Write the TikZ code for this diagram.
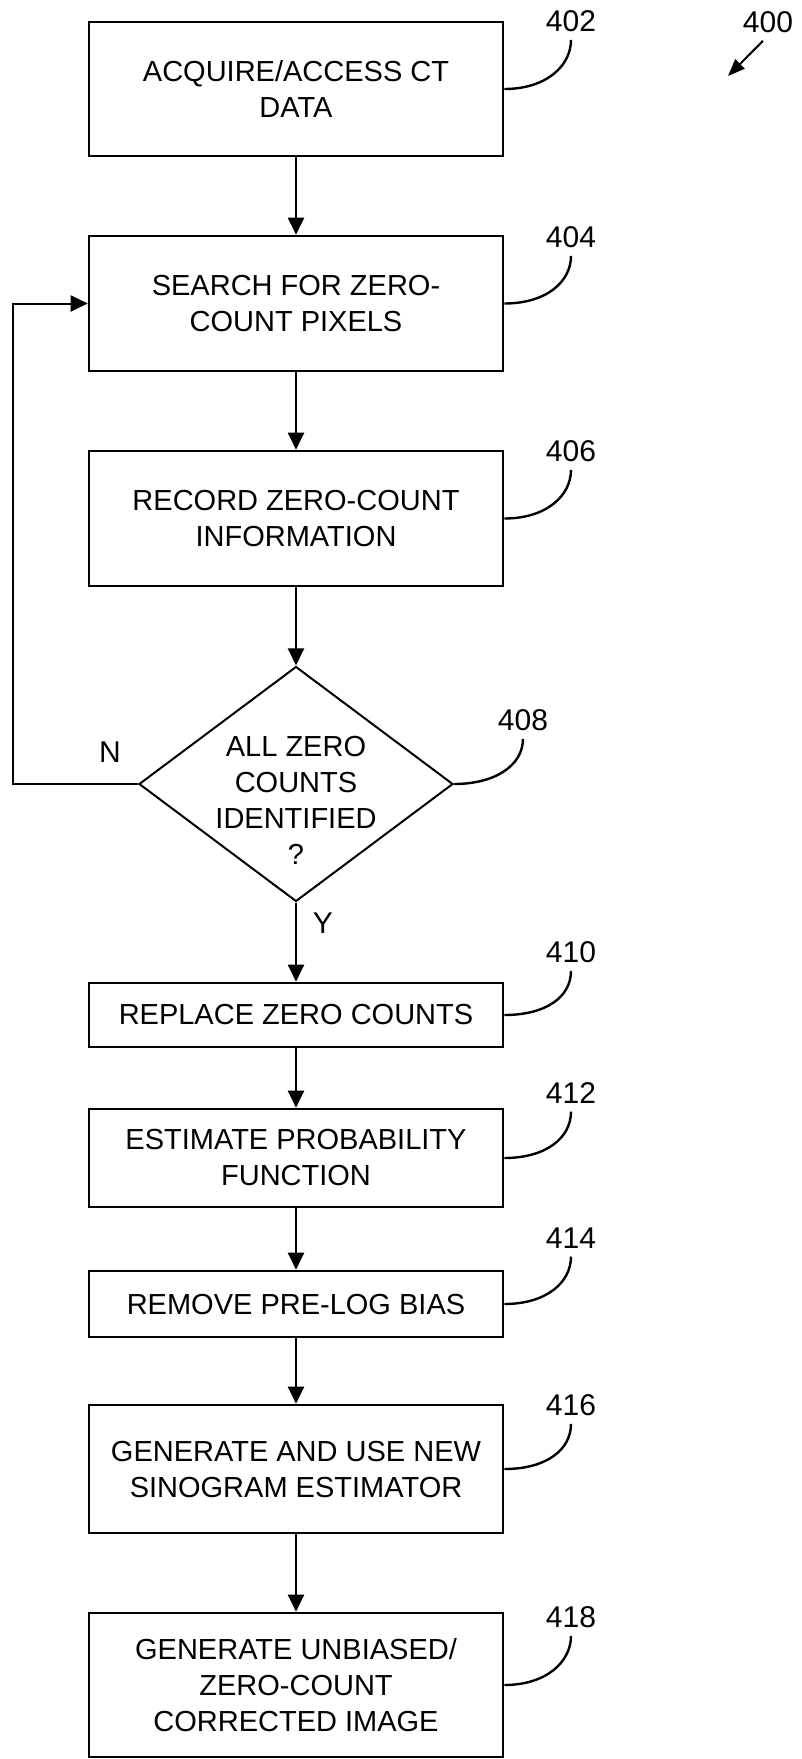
\documentclass[tikz,border=0pt]{standalone}
\usepackage{fontspec}
\setmainfont{Liberation Sans}
\usetikzlibrary{arrows.meta,shapes.geometric}
\begin{document}
\begin{tikzpicture}[x=1pt,y=-1pt,
  stepbox/.style={draw, line width=2.6pt, minimum width=414pt, inner sep=0pt,
    align=center, font=\fontsize{29}{36}\selectfont},
  txt/.style={inner sep=0pt, align=center, font=\fontsize{29}{36}\selectfont},
  decision/.style={diamond, draw, line width=2pt, minimum width=314pt,
    minimum height=235pt, inner sep=0pt},
  refnum/.style={inner xsep=2pt, inner ysep=8pt, font=\fontsize{30}{30}\selectfont},
  flow/.style={line width=2pt, -{Triangle[length=17pt,width=16pt]}},
  leader/.style={line width=2.4pt},
]
\useasboundingbox (0,0) rectangle (801,1759);

% process steps
\node[stepbox, minimum height=134pt] (b402) at (296,89)   {ACQUIRE/ACCESS CT\\DATA};
\node[stepbox, minimum height=135pt] (b404) at (296,303.5) {SEARCH FOR ZERO-\\COUNT PIXELS};
\node[stepbox, minimum height=135pt] (b406) at (296,518.5) {RECORD ZERO-COUNT\\INFORMATION};
\node[decision] (d408) at (296,784) {};
\node[txt] (t408) at (296,800) {ALL ZERO\\COUNTS\\IDENTIFIED\\?};
\node[stepbox, minimum height=64pt]  (b410) at (296,1015) {REPLACE ZERO COUNTS};
\node[stepbox, minimum height=98pt]  (b412) at (296,1158) {ESTIMATE PROBABILITY\\FUNCTION};
\node[stepbox, minimum height=66pt]  (b414) at (296,1304) {REMOVE PRE-LOG BIAS};
\node[stepbox, minimum height=128pt] (b416) at (296,1469) {GENERATE AND USE NEW\\SINOGRAM ESTIMATOR};
\node[stepbox, minimum height=144pt] (b418) at (296,1685) {GENERATE UNBIASED/\\ZERO-COUNT\\CORRECTED IMAGE};

% reference numerals
\node[refnum] (l400) at (768,22)   {400};
\node[refnum] (l402) at (571,21)   {402};
\node[refnum] (l404) at (571,237)  {404};
\node[refnum] (l406) at (571,451)  {406};
\node[refnum] (l408) at (523,720)  {408};
\node[refnum] (l410) at (571,952)  {410};
\node[refnum] (l412) at (571,1093) {412};
\node[refnum] (l414) at (571,1238) {414};
\node[refnum] (l416) at (571,1405) {416};
\node[refnum] (l418) at (571,1617) {418};

% branch labels
\node[refnum] (lN) at (110,752) {N};
\node[refnum] (lY) at (323,923) {Y};

% main flow
\draw[flow] (b402) -- (b404);
\draw[flow] (b404) -- (b406);
\draw[flow] (b406) -- (d408);
\draw[flow] (d408) -- (b410);
\draw[flow] (b410) -- (b412);
\draw[flow] (b412) -- (b414);
\draw[flow] (b414) -- (b416);
\draw[flow] (b416) -- (b418);

% loop back when not all zero counts are found
\draw[flow] (d408.west) -- ++(-125,0) |- (b404.west);

% leader lines
\foreach \b/\l in {b402/l402,b404/l404,b406/l406,d408/l408,b410/l410,
                   b412/l412,b414/l414,b416/l416,b418/l418}{
  \draw[leader] (\b.east) .. controls ([xshift=42pt]\b.east)
    and ([yshift=-26pt]\l.south) .. (\l.south);
}

% figure pointer
\coordinate (a400) at (728,76);
\draw[line width=2pt, -{Triangle[length=17pt,width=13pt]}] ([xshift=-5pt]l400.south) -- (a400);
\end{tikzpicture}
\end{document}
